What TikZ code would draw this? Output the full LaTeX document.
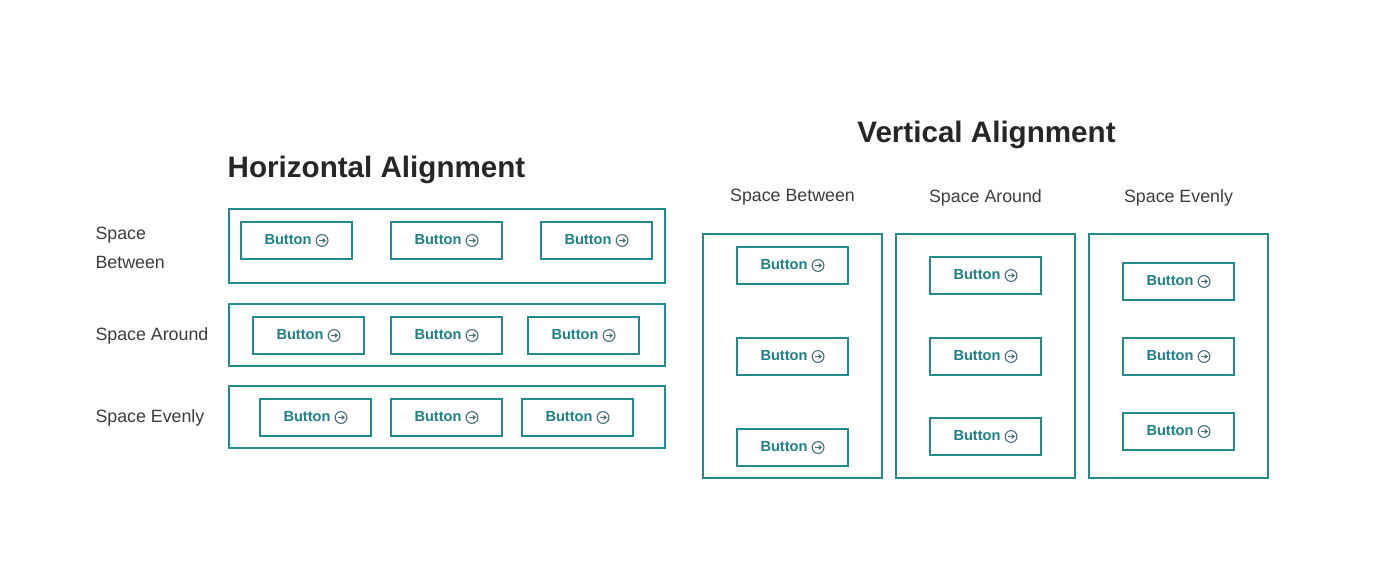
\documentclass[tikz,border=0pt]{standalone}
\usepackage{fontspec}
\setmainfont{Liberation Sans}
\usepackage{xcolor}
\usetikzlibrary{arrows.meta, positioning}
\definecolor{tealline}{RGB}{32,140,146}
\definecolor{tealtext}{RGB}{30,128,136}
\definecolor{icongray}{RGB}{70,112,118}
\definecolor{labelgray}{RGB}{60,60,60}
\tikzset{>={Stealth[scale=1]}}
\tikzset{
  frame/.style={draw=tealline, line width=2.9pt, inner sep=0pt},
  btn/.style={draw=tealline, line width=1.9pt, minimum width=111pt, minimum height=37pt,
    inner sep=0pt, text=tealtext, font=\fontsize{14.6}{16}\selectfont\bfseries},
  heading/.style={font=\fontsize{29.6}{32}\selectfont\bfseries, text=black!85},
  caption/.style={font=\fontsize{17.8}{22}\selectfont, text=labelgray, align=left}
}
\newcommand{\goicon}{\tikz[baseline=-0.5ex, x=1pt, y=1pt]{
  \draw[icongray, line width=1.1pt] (0,0) circle (5.9pt);
  \draw[icongray, line width=1.4pt, -{Stealth[length=3.6pt, width=5.4pt]}] (-3.4,0) -- (3.9,0);}}

\begin{document}
\begin{tikzpicture}[x=1pt, y=-1pt]
    \useasboundingbox (0,0) rectangle (1375,585);
    % horizontal alignment
    \node[heading] (htitle) at (376.5, 170) {Horizontal Alignment};
    \node[frame, minimum width=436pt, minimum height=74pt] (hbetween) at (447, 246) {};
    \node[frame, minimum width=436pt, minimum height=62pt] (haround) at (447, 335) {};
    \node[frame, minimum width=436pt, minimum height=62pt] (hevenly) at (447, 417) {};
    \node[caption, anchor=west] (lbetween) at (92, 248) {Space\\[7pt]Between};
    \node[caption, anchor=west] (laround) at (92, 336) {Space Around};
    \node[caption, anchor=west] (levenly) at (92, 418) {Space Evenly};
    \node[btn] (hb1) at (296.5, 240.5) {Button \goicon};
    \node[btn] (hb2) at (446.5, 240.5) {Button \goicon};
    \node[btn] (hb3) at (596.5, 240.5) {Button \goicon};
    \node[btn] (ha1) at (308.5, 335.5) {Button \goicon};
    \node[btn] (ha2) at (446.5, 335.5) {Button \goicon};
    \node[btn] (ha3) at (583.5, 335.5) {Button \goicon};
    \node[btn] (he1) at (315.5, 417.5) {Button \goicon};
    \node[btn] (he2) at (446.5, 417.5) {Button \goicon};
    \node[btn] (he3) at (577.5, 417.5) {Button \goicon};
    % vertical alignment
    \node[heading] (vtitle) at (986.5, 135) {Vertical Alignment};
    \node[caption] (cbetween) at (792.5, 197.5) {Space Between};
    \node[caption] (caround) at (985.5, 197.5) {Space Around};
    \node[caption] (cevenly) at (1178.5, 197.5) {Space Evenly};
    \node[frame, minimum width=179pt, minimum height=244pt] (vbetween) at (792.5, 356) {};
    \node[frame, minimum width=179pt, minimum height=244pt] (varound) at (985.5, 356) {};
    \node[frame, minimum width=179pt, minimum height=244pt] (vevenly) at (1178.5, 356) {};
    \node[btn] (vb1) at (792.5, 265.5) {Button \goicon};
    \node[btn] (vb2) at (792.5, 356.5) {Button \goicon};
    \node[btn] (vb3) at (792.5, 447.5) {Button \goicon};
    \node[btn] (va1) at (985.5, 275.5) {Button \goicon};
    \node[btn] (va2) at (985.5, 356.5) {Button \goicon};
    \node[btn] (va3) at (985.5, 436.5) {Button \goicon};
    \node[btn] (ve1) at (1178.5, 281.5) {Button \goicon};
    \node[btn] (ve2) at (1178.5, 356.5) {Button \goicon};
    \node[btn] (ve3) at (1178.5, 431.5) {Button \goicon};
\end{tikzpicture}
\end{document}
